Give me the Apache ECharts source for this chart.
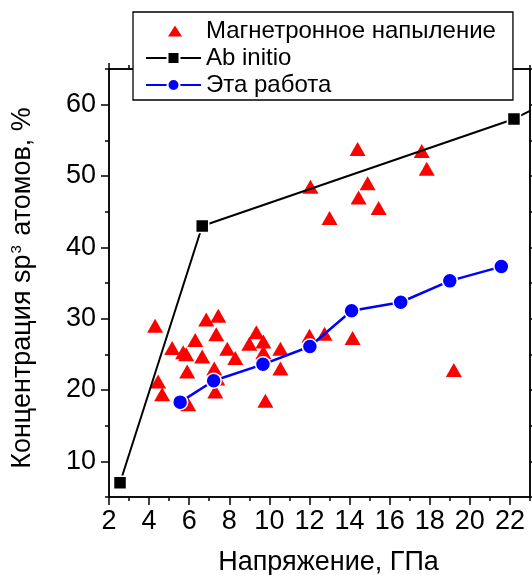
<!DOCTYPE html>
<html>
<head>
<meta charset="utf-8">
<script src="https://cdn.jsdelivr.net/npm/echarts@6/dist/echarts.min.js"></script>
<style>
  html, body { margin: 0; padding: 0; background: #fff; }
  #chart { width: 532px; height: 575px; }
</style>
</head>
<body>
<div id="chart"></div>
<script>
// magnetron sputtering (red triangles)
const magnetronX = [4.3, 4.45, 4.65, 5.15, 5.7, 5.85, 5.95, 5.9, 6.3, 6.65, 6.85, 7.45, 7.35, 7.25, 7.3, 7.4, 7.9, 8.3,
  9.0, 9.35, 9.7, 9.7, 9.8, 10.55, 10.55, 12.0, 12.75, 14.15, 19.2,
  12.05, 13.0, 14.4, 14.45, 14.9, 15.45, 17.6, 17.85];
const magnetronY = [29.0, 21.2, 19.4, 25.9, 25.3, 25.0, 18.0, 22.6, 27.0, 24.7, 29.9, 30.4, 27.8, 23.0, 19.8, 21.6, 25.8, 24.5,
  26.5, 28.1, 26.8, 25.3, 18.5, 25.8, 23.0, 27.6, 27.9, 27.3, 22.8,
  48.5, 44.1, 53.8, 47.0, 49.0, 45.5, 53.5, 51.0];
// ab initio (black squares), last point lies past the frame
const abInitioX = [2.55, 6.65, 22.2, 25.0];
const abInitioY = [7.0, 43.0, 58.0, 62.0];
// this work (blue circles)
const workX = [5.55, 7.22, 9.68, 12.02, 14.1, 16.55, 19.0, 21.57];
const workY = [18.3, 21.3, 23.6, 26.1, 31.1, 32.3, 35.3, 37.3];

const xMajor = [2, 4, 6, 8, 10, 12, 14, 16, 18, 20, 22];
const xMinor = [3, 5, 7, 9, 11, 13, 15, 17, 19, 21, 23];
const yMajor = [10, 20, 30, 40, 50, 60];
const yMinor = [5, 15, 25, 35, 45, 55, 65];

const zip = (xs, ys) => xs.map((x, i) => [x, ys[i]]);

const font = "'Liberation Sans', Arial, sans-serif";
const black = "#000";

function xAxisCfg(pos, ticks, len, labels) {
  return {
    type: "value", position: pos, min: 2, max: 23,
    axisLine: { show: true, onZero: false, lineStyle: { color: black, width: 1.5 } },
    axisTick: { show: true, inside: false, length: len, customValues: ticks, lineStyle: { color: black, width: 1.5 } },
    axisLabel: labels
      ? { show: true, customValues: xMajor, margin: 11, color: black, fontSize: 27, fontFamily: font }
      : { show: false },
    splitLine: { show: false },
  };
}
function yAxisCfg(pos, ticks, len, labels) {
  return {
    type: "value", position: pos, min: 5, max: 65,
    axisLine: { show: true, onZero: false, lineStyle: { color: black, width: 1.5 } },
    axisTick: { show: true, inside: false, length: len, customValues: ticks, lineStyle: { color: black, width: 1.5 } },
    axisLabel: labels
      ? { show: true, customValues: yMajor, margin: 13, color: black, fontSize: 27, fontFamily: font }
      : { show: false },
    splitLine: { show: false },
  };
}

const xBottom = xAxisCfg("bottom", xMajor, 8, true);
xBottom.name = "Напряжение, ГПа";
xBottom.nameLocation = "middle";
xBottom.nameGap = 52;
xBottom.nameTextStyle = { color: black, fontSize: 27, fontFamily: font, padding: [0, 0, 0, 18] };

const yLeft = yAxisCfg("left", yMajor, 8, true);
yLeft.name = "{a|Концентрация sp}{s|3}{a| атомов, %}";
yLeft.nameLocation = "middle";
yLeft.nameGap = 72;
yLeft.nameTextStyle = {
  color: black, fontFamily: font,
  padding: [0, 10, 0, 0],
  rich: {
    a: { fontSize: 27, lineHeight: 28, fontFamily: font, color: black },
    s: { fontSize: 15, lineHeight: 28, verticalAlign: "top", fontFamily: font, color: black, padding: [0, 2, 0, 1] },
  },
};

// legend triangle: empty moves pin the path box to the icon box so the triangle keeps its shape
const legendTriangle = "path://M0,0M55,15M29,2L36,13L22,13Z";

const chart = echarts.init(document.getElementById("chart"));
chart.setOption({
  backgroundColor: "#fff",
  animation: false,
  grid: { left: 109, right: 2, top: 69, bottom: 78, containLabel: false, outerBoundsMode: "none" },
  legend: {
    orient: "vertical",
    left: 133, top: 12,
    padding: [7, 17, 3, 12],
    itemGap: 3,
    itemWidth: 55,
    itemHeight: 15,
    backgroundColor: "#fff",
    borderColor: black,
    borderWidth: 1.3,
    textStyle: { color: black, fontSize: 24, fontFamily: font },
    data: [
      { name: "Магнетронное напыление", icon: legendTriangle },
      "Ab initio",
      "Эта работа",
    ],
  },
  xAxis: [
    xBottom,
    xAxisCfg("bottom", xMinor, 4, false),
    xAxisCfg("top", xMajor, 6, false),
    xAxisCfg("top", xMinor, 4, false),
  ],
  yAxis: [
    yLeft,
    yAxisCfg("left", yMinor, 4, false),
    yAxisCfg("right", yMajor, 6, false),
    yAxisCfg("right", yMinor, 4, false),
  ],
  series: [
    {
      name: "Магнетронное напыление",
      type: "scatter",
      symbol: "triangle",
      symbolSize: [16, 14],
      itemStyle: { color: "#ff0000", opacity: 1 },
      data: zip(magnetronX, magnetronY),
      z: 2,
    },
    {
      name: "Ab initio",
      type: "line",
      symbol: "rect",
      symbolSize: 13,
      clip: true,
      lineStyle: { color: black, width: 2 },
      itemStyle: { color: black, borderColor: "#fff", borderWidth: 1.5 },
      data: zip(abInitioX, abInitioY),
      z: 3,
    },
    {
      name: "Эта работа",
      type: "line",
      symbol: "circle",
      symbolSize: 15,
      lineStyle: { color: "#0000ff", width: 2.5 },
      itemStyle: { color: "#0000ff", borderColor: "#fff", borderWidth: 1.5 },
      data: zip(workX, workY),
      z: 4,
    },
  ],
});
</script>
</body>
</html>
